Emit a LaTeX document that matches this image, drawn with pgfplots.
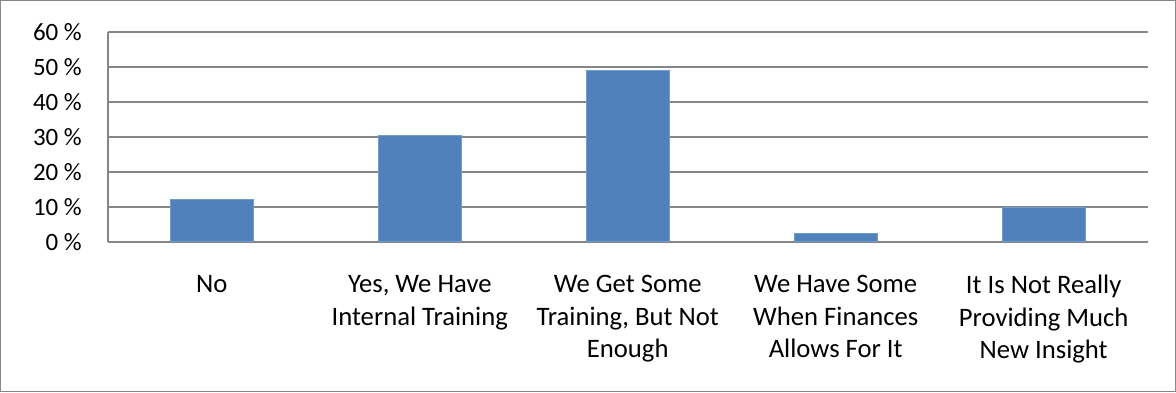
\documentclass[border=0pt]{standalone}
\usepackage{pgfplots}
\pgfplotsset{compat=1.18}
\usepackage{fontspec}
\setmainfont{Carlito}
\definecolor{barblue}{HTML}{4F81BD}
\definecolor{gridgray}{HTML}{868686}
\begin{document}
\begin{tikzpicture}
\draw[gridgray, line width=0.9pt] (0.4pt,0.4pt) rectangle (881.6pt,293.6pt);
\begin{axis}[
  at={(80.8pt,112.7pt)}, anchor=south west,
  scale only axis, width=780pt, height=157.5pt,
  ymin=0, ymax=60, ytick={0,10,...,60},
  xmin=-0.5, xmax=4.5, xtick={0,1,2,3,4},
  xticklabels={No, {Yes, We Have\\Internal Training}, {We Get Some\\Training, But Not\\Enough}, {We Have Some\\When Finances\\Allows For It}, {It Is Not Really\\Providing Much\\New Insight}},
  ybar, bar width=62.25pt,
  axis x line=bottom, axis y line=left,
  axis line style={-, gridgray, line width=1.1pt},
  ymajorgrids, grid style={gridgray, line width=1.1pt},
  major tick length=0pt,
  /pgf/number format/assume math mode=true,
  yticklabel={\pgfmathprintnumber{\tick} \%},
  tick label style={text=black},
  yticklabel style={font=\fontsize{18.7}{24.4}\selectfont, anchor=east, inner sep=0pt, xshift=-19.3pt},
  xticklabel style={font=\fontsize{20}{24.4}\selectfont, anchor=north, align=center, inner sep=0pt, yshift=-25pt},
]
\addplot[fill=barblue, draw=barblue!80!white, line width=0.5pt] coordinates {(0,12.2) (1,30.3) (2,48.9) (3,2.5) (4,9.8)};
\end{axis}
\end{tikzpicture}
\end{document}
